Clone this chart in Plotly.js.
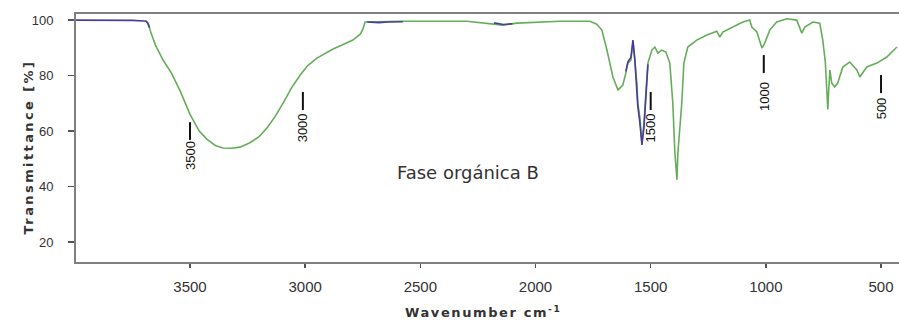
<!DOCTYPE html>
<html>
<head>
<meta charset="utf-8">
<script src="https://cdn.plot.ly/plotly-3.0.1.min.js"></script>
<style>html,body{margin:0;padding:0;background:#fff;}#chart{width:899px;height:323px;}</style>
</head>
<body>
<div id="chart"></div>
<script>
// Main (green) spectrum: wavenumber (cm-1) and transmittance (%)
const greenWn = [3690,3680,3670,3650,3617,3580,3543,3500,3460,3426,3390,3357,3320,3283,3240,3200,3166,3130,3096,3060,3023,2990,2949,2900,2879,2840,2793,2760,2749,
  2740,2589,2400,2298,2142,2081,1894,1764,1734,1721,1712,1690,1664,1642,1621,1608,1599,1586,1577,1569,1560,1556,1547,1538,1529,1521,1512,
  1495,1482,1469,1452,1434,1417,1404,1395,1386,1382,1365,1356,1339,1300,1256,1213,1200,1187,1143,1100,1070,1061,1039,1017,1005,983,953,909,866,844,831,796,766,753,742,735,731,727,722,714,701,688,666,636,605,592,562,518,475,431];
const greenT = [99.6,98.5,95.5,91.0,85.6,80.8,74.5,66.0,60.0,57.0,54.8,53.9,53.8,54.2,55.8,58.0,61.1,65.3,70.1,75.5,80.0,83.5,86.3,88.8,89.6,91.0,92.8,95.0,96.8,
  99.3,99.6,99.6,99.6,98.2,98.9,99.6,99.6,98.5,97.1,96.4,89.2,79.5,74.8,76.6,80.9,84.5,85.6,92.1,85.6,77.3,70.1,65.0,55.7,62.9,73.7,84.5,
  89.2,90.3,88.1,89.2,88.5,84.5,70.1,52.1,42.5,52.1,70.1,84.5,90.3,92.8,94.6,96.0,93.9,95.7,97.5,99.3,100,97.5,95.7,89.9,91.7,96.4,99.3,100.5,100,95.3,97.5,99.3,98.9,92.8,85.0,76.0,67.8,75.0,82.0,77.3,75.9,77.3,83.1,84.9,82.0,79.5,83.1,84.5,86.7,90.3];

// Second (purple) spectrum, visible where it departs from the green one
const purpleWn = [3995,3850,3750,3700,3690,3684,3676, null, 2731,2680,2640,2576, null, 2180,2140,2100, null,
  1608,1599,1586,1577,1569,1560,1556,1547,1538,1529,1521,1512];
const purpleT = [100,100,99.9,99.7,99.6,99.0,97.3, null, 99.3,99.1,99.3,99.4, null, 99.0,98.4,98.7, null,
  81.5,85.0,86.5,92.8,86.0,76.5,69.0,63.0,55.0,61.5,72.5,84.0];

// Axis ticks
const xTicks = [3500,3000,2500,2000,1500,1000,500];
const yTicks = [20,40,60,80,100];

// Peak labels drawn on the spectrum
const peakLabels = ["3500","3000","1500","1000","500"];
const peakWn = [3500,3010,1500,1009,500];
const peakBarTop = [63.2,74.1,74.1,87.4,80.2];
const peakBarBottom = [56.8,67.6,67.6,80.9,73.7];
const peakTextT = [51.0,61.3,61.2,72.6,68.2];

const sampleName = "Fase orgánica B";
const sampleWn = 2293, sampleT = 45.2;

const traces = [
  {x: greenWn, y: greenT, type: 'scatter', mode: 'lines', line: {color: '#66ad5a', width: 1.6}, hoverinfo: 'skip'},
  {x: purpleWn, y: purpleT, type: 'scatter', mode: 'lines', connectgaps: false, line: {color: '#4a3c98', width: 1.6}, hoverinfo: 'skip'}
];

const shapes = peakWn.map((w, i) => ({
  type: 'line', xref: 'x', yref: 'y', x0: w, x1: w, y0: peakBarBottom[i], y1: peakBarTop[i],
  line: {color: '#111', width: 2}
}));

const annotations = peakWn.map((w, i) => ({
  x: w, y: peakTextT[i], xref: 'x', yref: 'y', text: peakLabels[i], showarrow: false, textangle: -90,
  font: {family: 'Liberation Sans Narrow, Liberation Sans, Arial, sans-serif', size: 13, color: '#111'}
}));
annotations.push({
  x: sampleWn, y: sampleT, xref: 'x', yref: 'y', text: sampleName, showarrow: false,
  font: {family: 'DejaVu Sans, sans-serif', size: 18, color: '#333'}
});
annotations.push({
  x: -0.0693, y: 0.4637, xref: 'paper', yref: 'paper',
  text: '<span style="letter-spacing:2.4px">Transmittance [%]</span>', showarrow: false, textangle: -90,
  font: {family: 'DejaVu Sans, sans-serif', size: 13, color: '#333', weight: 'bold'}
});
annotations.push({
  x: 0.4945, y: -0.242, xref: 'paper', yref: 'paper',
  text: '<span style="letter-spacing:1.6px">Wavenumber cm<sup>-1</sup></span>', showarrow: false,
  font: {family: 'DejaVu Sans, sans-serif', size: 13, color: '#333', weight: 'bold'}
});

const layout = {
  width: 899, height: 323,
  margin: {l: 76, r: 0, t: 14, b: 61, pad: 0},
  paper_bgcolor: '#fff', plot_bgcolor: '#fff',
  showlegend: false,
  xaxis: {
    range: [3995, 422], tickvals: xTicks, ticktext: xTicks.map(String),
    ticks: 'outside', ticklen: 4, tickwidth: 1.5, tickcolor: '#555', ticklabelstandoff: 6,
    showline: true, linecolor: '#808080', linewidth: 2, mirror: true,
    showgrid: false, zeroline: false,
    tickfont: {family: 'Liberation Sans, Arial, sans-serif', size: 15, color: '#333'}
  },
  yaxis: {
    range: [12.8, 102.2], tickvals: yTicks, ticktext: yTicks.map(String),
    ticks: 'outside', ticklen: 6, tickwidth: 1.5, tickcolor: '#555', ticklabelstandoff: 12,
    showline: true, linecolor: '#808080', linewidth: 2,
    showgrid: false, zeroline: false,
    tickfont: {family: 'Liberation Sans Narrow, Liberation Sans, Arial, sans-serif', size: 13, color: '#333'}
  },
  shapes: shapes,
  annotations: annotations
};

Plotly.newPlot('chart', traces, layout, {displayModeBar: false, staticPlot: true});
</script>
</body>
</html>
